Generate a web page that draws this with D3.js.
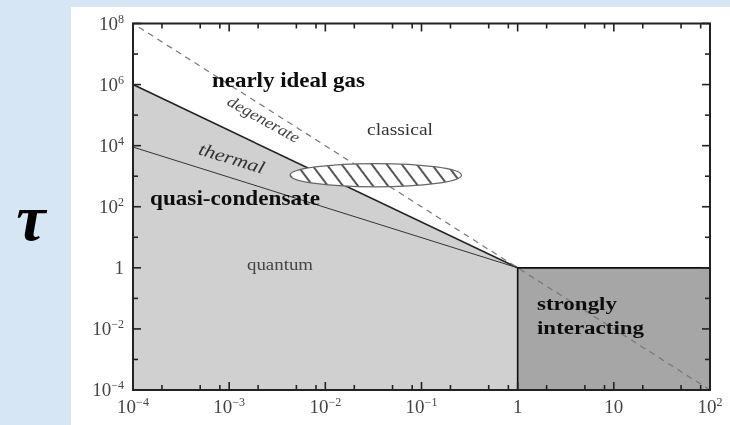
<!DOCTYPE html>
<html><head><meta charset="utf-8">
<script src="https://cdn.jsdelivr.net/npm/d3@7"></script>
<style>
html,body{margin:0;padding:0;background:#d6e6f5;}
svg{display:block}
</style>
</head><body>
<svg id="chart" width="730" height="425"></svg>
<script>
// Axis ticks (log-log phase diagram)
const xMajorTicks = [1e-4, 1e-3, 1e-2, 1e-1, 1, 10, 100];
const xTickLabels = [["10","−4"],["10","−3"],["10","−2"],["10","−1"],["1",""],["10",""],["10","2"]];
const xMinorMantissas = [2, 5, 8];
const yDecadeExponents = d3.range(-4, 9);
const yMajorTicks = [1e-4, 1e-2, 1, 1e2, 1e4, 1e6, 1e8];
const yTickLabels = [["10","−4"],["10","−2"],["1",""],["10","2"],["10","4"],["10","6"],["10","8"]];

// Regions and boundaries, in (x, tau) data coordinates
const quantumRegion = [[1e-4, 1e6], [1, 1], [1, 1e-4], [1e-4, 1e-4]];
const strongRegion = [[1, 1], [100, 1], [100, 1e-4], [1, 1e-4]];
const thermalBoundary = [[1e-4, 1e6], [1, 1]];
const condensateBoundary = [[1e-4, 9e3], [1, 1]];
const degeneracyLine = [[1.15e-4, 7.56e7], [100, 1e-4]];
const experimentX = [4.3e-3, 0.26];
const experimentY = [4.5e2, 2.6e3];

const svg = d3.select("#chart");
const W = 730, H = 425;

// white card on the blue backdrop
svg.append("rect").attr("x", 0).attr("y", 0).attr("width", W).attr("height", H).attr("fill", "#d6e6f5");
svg.append("rect").attr("x", 71).attr("y", 7).attr("width", W - 71).attr("height", H - 7).attr("fill", "#ffffff");

const x = d3.scaleLog().domain([1e-4, 100]).range([133, 710]);
const y = d3.scaleLog().domain([1e-4, 1e8]).range([390, 23.5]);

const defs = svg.append("defs");
const hatch = defs.append("pattern")
  .attr("id", "hatch").attr("patternUnits", "userSpaceOnUse")
  .attr("width", 12).attr("height", 12)
  .attr("patternTransform", "rotate(-37)");
hatch.append("rect").attr("width", 12).attr("height", 12).attr("fill", "#ffffff");
hatch.append("line").attr("x1", 6).attr("y1", 0).attr("x2", 6).attr("y2", 12)
  .attr("stroke", "#444").attr("stroke-width", 1.8);
defs.append("filter").attr("id", "soft")
  .append("feGaussianBlur").attr("stdDeviation", 0.45);

const g = svg.append("g").attr("filter", "url(#soft)");
const line = d3.line().x(d => x(d[0])).y(d => y(d[1]));

g.append("path").attr("d", line(quantumRegion) + "Z").attr("fill", "#d0d0d0");
g.append("path").attr("d", line(strongRegion) + "Z").attr("fill", "#a6a6a6")
  .attr("stroke", "#111").attr("stroke-width", 1.6);

g.append("path").attr("d", line(condensateBoundary)).attr("fill", "none")
  .attr("stroke", "#333").attr("stroke-width", 1);
g.append("path").attr("d", line(thermalBoundary)).attr("fill", "none")
  .attr("stroke", "#222").attr("stroke-width", 1.6);
g.append("path").attr("d", line(degeneracyLine)).attr("fill", "none")
  .attr("stroke", "#777").attr("stroke-width", 1.2).attr("stroke-dasharray", "6,5");

// experimental window: ellipse in log space
const ex0 = x(experimentX[0]), ex1 = x(experimentX[1]);
const ey0 = y(experimentY[1]), ey1 = y(experimentY[0]);
g.append("ellipse")
  .attr("cx", (ex0 + ex1) / 2).attr("cy", (ey0 + ey1) / 2)
  .attr("rx", (ex1 - ex0) / 2).attr("ry", (ey1 - ey0) / 2)
  .attr("fill", "url(#hatch)").attr("stroke", "#666").attr("stroke-width", 1.2);

// frame
g.append("rect").attr("x", x(1e-4)).attr("y", y(1e8))
  .attr("width", x(100) - x(1e-4)).attr("height", y(1e-4) - y(1e8))
  .attr("fill", "none").attr("stroke", "#222").attr("stroke-width", 2);

// inward ticks
const xMinor = [];
xMajorTicks.slice(0, -1).forEach(t => xMinorMantissas.forEach(m => xMinor.push(t * m)));
const tickStroke = "#222";
[[xMajorTicks, 8], [xMinor, 5]].forEach(([ticks, len]) => {
  ticks.forEach(t => {
    g.append("line").attr("x1", x(t)).attr("x2", x(t)).attr("y1", y(1e-4)).attr("y2", y(1e-4) - len)
      .attr("stroke", tickStroke).attr("stroke-width", 1.6);
    g.append("line").attr("x1", x(t)).attr("x2", x(t)).attr("y1", y(1e8)).attr("y2", y(1e8) + len)
      .attr("stroke", tickStroke).attr("stroke-width", 1.6);
  });
});
yDecadeExponents.forEach(e => {
  const v = Math.pow(10, e), len = e % 2 === 0 ? 8 : 5;
  g.append("line").attr("x1", x(1e-4)).attr("x2", x(1e-4) + len).attr("y1", y(v)).attr("y2", y(v))
    .attr("stroke", tickStroke).attr("stroke-width", 1.6);
  g.append("line").attr("x1", x(100)).attr("x2", x(100) - len).attr("y1", y(v)).attr("y2", y(v))
    .attr("stroke", tickStroke).attr("stroke-width", 1.6);
});

// tick labels
const serif = "'Liberation Serif','DejaVu Serif',serif";
function powLabel(sel, [base, exp]) {
  sel.append("tspan").text(base);
  if (exp) sel.append("tspan").attr("font-size", 12).attr("dy", -7).text(exp);
}
xMajorTicks.forEach((t, i) => {
  const tx = g.append("text").attr("x", x(t)).attr("y", 413)
    .attr("text-anchor", "middle").attr("font-family", serif).attr("font-size", 19).attr("fill", "#444");
  powLabel(tx, xTickLabels[i]);
});
yMajorTicks.forEach((t, i) => {
  const ty = g.append("text").attr("x", 124).attr("y", y(t) + 6)
    .attr("text-anchor", "end").attr("font-family", serif).attr("font-size", 19).attr("fill", "#444");
  powLabel(ty, yTickLabels[i]);
});

// region annotations
function label(txt, px, py, opts) {
  const t = g.append("text").attr("x", px).attr("y", py)
    .attr("font-family", serif).attr("font-size", opts.size)
    .attr("font-weight", opts.weight || "normal").attr("font-style", opts.style || "normal")
    .attr("fill", opts.fill || "#222").text(txt);
  if (opts.len) t.attr("textLength", opts.len).attr("lengthAdjust", "spacingAndGlyphs");
  if (opts.rotate) t.attr("text-anchor", "middle").attr("transform", `rotate(${opts.rotate},${px},${py})`);
  return t;
}
label("nearly ideal gas", 212, 87, {size: 21, weight: "bold", len: 153, fill: "#111"});
label("classical", 367, 135, {size: 16, len: 66, fill: "#333"});
label("degenerate", 261, 124, {size: 16, style: "italic", len: 80, rotate: 29, fill: "#444"});
label("thermal", 230, 164, {size: 18, style: "italic", len: 68, rotate: 17, fill: "#333"});
label("quasi-condensate", 150, 205, {size: 21, weight: "bold", len: 170, fill: "#111"});
label("quantum", 247, 270, {size: 16, len: 66, fill: "#444"});
label("strongly", 537, 310, {size: 18, weight: "bold", len: 80, fill: "#111"});
label("interacting", 537, 334, {size: 18, weight: "bold", len: 107, fill: "#111"});

// axis symbol
svg.append("text").attr("x", 31).attr("y", 240).attr("text-anchor", "middle")
  .attr("font-family", serif).attr("font-size", 66).attr("font-weight", "bold").attr("font-style", "italic")
  .attr("fill", "#000").text("τ");
</script>
</body></html>
